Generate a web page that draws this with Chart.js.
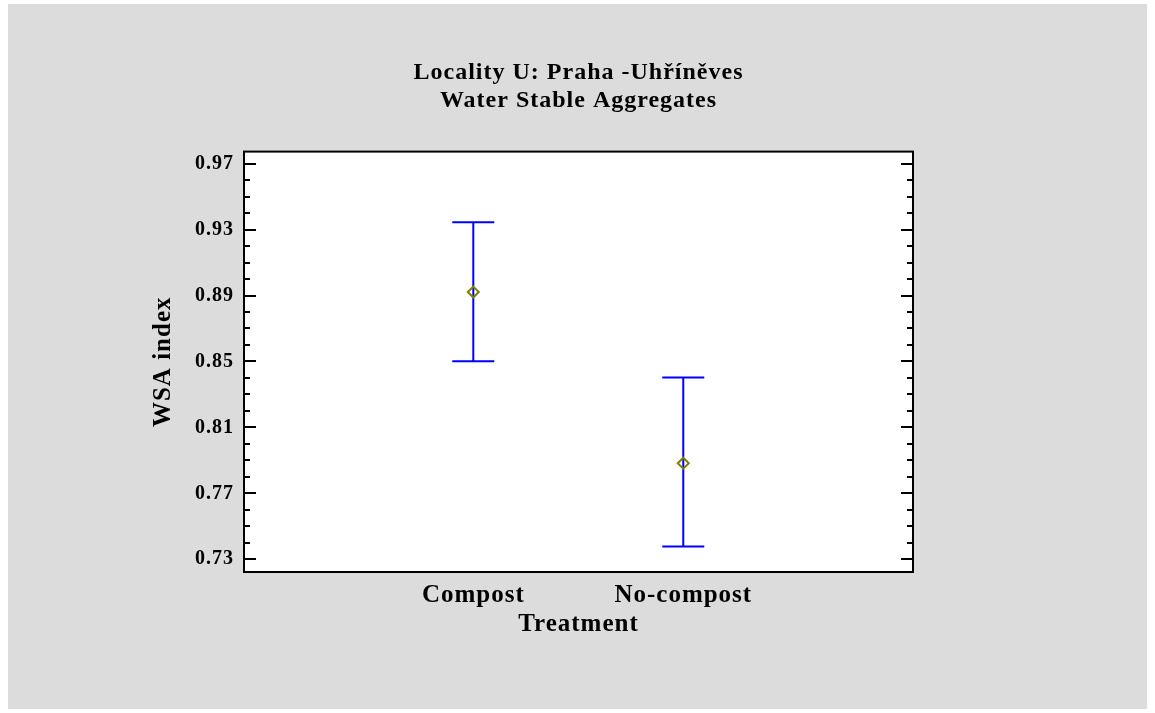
<!DOCTYPE html>
<html>
<head>
<meta charset="utf-8">
<script src="https://cdn.jsdelivr.net/npm/chart.js@4.4.1/dist/chart.umd.min.js"></script>
<style>
  html,body{margin:0;padding:0;background:#fff;}
  #wrap{width:1155px;height:713px;}
</style>
</head>
<body>
<div id="wrap"><canvas id="cv" width="1155" height="713"></canvas></div>
<script>
// ── data ──
const TREATMENTS = ['Compost', 'No-compost'];
const MEANS      = [0.8921, 0.7883];
const UPPER      = [0.9344, 0.8403];
const LOWER      = [0.8502, 0.7377];
const Y_TICKS    = [0.73, 0.77, 0.81, 0.85, 0.89, 0.93, 0.97];

const FONT = '"Liberation Serif", "Times New Roman", serif';

// gray panel behind everything (+ the slightly spaced lettering of the original)
const panelBg = {
  id: 'panelBg',
  beforeDraw(c) {
    const ctx = c.ctx;
    ctx.letterSpacing = '1px';
    ctx.save();
    ctx.fillStyle = '#dcdcdc';
    ctx.fillRect(8, 4, 1139, 705);
    const a = c.chartArea;
    ctx.fillStyle = '#fff';
    ctx.fillRect(a.left, a.top, a.right - a.left, a.bottom - a.top);
    ctx.restore();
  }
};

// error bars from the data arrays
const errBars = {
  id: 'errBars',
  beforeDatasetsDraw(c) {
    const ctx = c.ctx, x = c.scales.x, y = c.scales.y;
    ctx.save();
    ctx.strokeStyle = '#0000ff';
    ctx.lineWidth = 2;
    TREATMENTS.forEach((t, i) => {
      const px = x.getPixelForValue(i + 1);
      const yt = y.getPixelForValue(UPPER[i]);
      const yb = y.getPixelForValue(LOWER[i]);
      ctx.beginPath();
      ctx.moveTo(px, yt); ctx.lineTo(px, yb);
      ctx.moveTo(px - 21, yt); ctx.lineTo(px + 21, yt);
      ctx.moveTo(px - 21, yb); ctx.lineTo(px + 21, yb);
      ctx.stroke();
    });
    ctx.restore();
  }
};

// frame + inward ticks on both sides
const frame = {
  id: 'frame',
  afterDraw(c) {
    const ctx = c.ctx, a = c.chartArea, y = c.scales.y;
    ctx.save();
    ctx.strokeStyle = '#000';
    ctx.lineWidth = 2;
    ctx.strokeRect(a.left, a.top, a.right - a.left, a.bottom - a.top);
    ctx.beginPath();
    for (let k = 0; k <= 24; k++) {
      const v = 0.73 + k * 0.01;
      const py = Math.round(y.getPixelForValue(v));
      const len = k % 4 === 0 ? 12 : 6;
      ctx.moveTo(a.left, py); ctx.lineTo(a.left + len, py);
      ctx.moveTo(a.right, py); ctx.lineTo(a.right - len, py);
    }
    ctx.stroke();
    ctx.restore();
  }
};

new Chart(document.getElementById('cv'), {
  type: 'scatter',
  data: {
    datasets: [{
      data: MEANS.map((m, i) => ({x: i + 1, y: m})),
      pointStyle: 'rectRot',
      pointRadius: 5.5,
      pointBorderWidth: 2,
      borderColor: '#808000',
      backgroundColor: 'rgba(0,0,0,0)'
    }]
  },
  options: {
    responsive: false,
    animation: false,
    events: [],
    layout: {padding: {left: 149, right: 242, top: 0, bottom: 73}},
    plugins: {
      legend: {display: false},
      tooltip: {enabled: false},
      title: {
        display: true,
        fullSize: false,
        text: ['Locality U: Praha -Uhříněves', 'Water Stable Aggregates'],
        color: '#000',
        font: {family: FONT, size: 24, weight: 'bold', lineHeight: 1.2},
        padding: {top: 58, bottom: 36}
      }
    },
    scales: {
      x: {
        type: 'linear',
        min: -0.092, max: 3.094,
        afterBuildTicks: s => { s.ticks = TREATMENTS.map((t, i) => ({value: i + 1})); },
        afterFit: s => { s.height = 68; },
        ticks: {
          callback: v => TREATMENTS[v - 1],
          color: '#000',
          padding: 9,
          font: {family: FONT, size: 25, weight: 'bold'}
        },
        grid: {display: false, drawTicks: false},
        border: {display: false},
        title: {
          display: true, text: 'Treatment', color: '#000', padding: 0,
          font: {family: FONT, size: 25, weight: 'bold', lineHeight: 1.2}
        }
      },
      y: {
        min: 0.7223, max: 0.9773,
        afterBuildTicks: s => { s.ticks = Y_TICKS.map(v => ({value: v})); },
        afterFit: s => { s.width = 95; },
        ticks: {
          callback: v => v.toFixed(2),
          color: '#000',
          padding: 10,
          font: {family: FONT, size: 20, weight: 'bold'}
        },
        grid: {display: false, drawTicks: false},
        border: {display: false},
        title: {
          display: true, text: 'WSA index', color: '#000', padding: 0,
          font: {family: FONT, size: 25, weight: 'bold', lineHeight: 1.2}
        }
      }
    }
  },
  plugins: [panelBg, errBars, frame]
});
</script>
</body>
</html>
